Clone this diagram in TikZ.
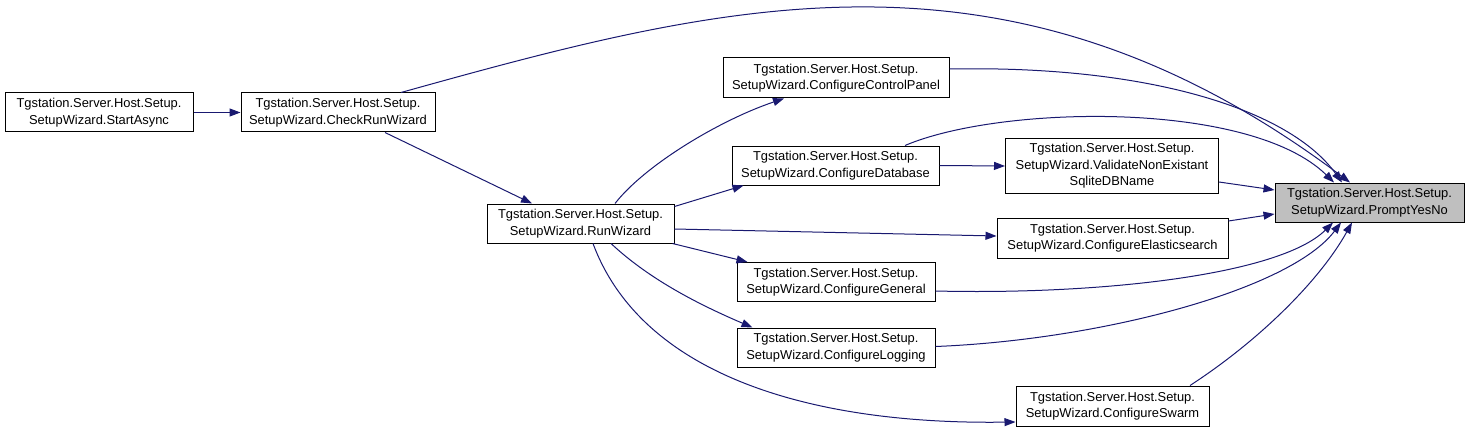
\documentclass[tikz,border=0pt]{standalone}
\usepackage{fontspec}
\setmainfont{Liberation Sans}
\usetikzlibrary{arrows.meta}
\definecolor{edgeblue}{HTML}{191970}
\definecolor{hlgray}{HTML}{BFBFBF}
\begin{document}
\begin{tikzpicture}[x=1pt,y=-1pt,
  box/.style={draw=black, line width=1pt, inner sep=0pt, align=center, fill=white,
    font=\fontsize{12.9}{16.5}\selectfont},
  edge/.style={draw=edgeblue, line width=1pt, -{Triangle[length=11pt,width=8pt]}}]
\useasboundingbox (0,0) rectangle (1469,433);
% nodes
\node[box, minimum width=188pt, minimum height=39pt] (start) at (99,112.5) {Tgstation.Server.Host.Setup.\\SetupWizard.StartAsync};
\node[box, minimum width=194pt, minimum height=39pt] (check) at (338,112.5) {Tgstation.Server.Host.Setup.\\SetupWizard.CheckRunWizard};
\node[box, minimum width=187pt, minimum height=39pt] (run) at (580.5,223.5) {Tgstation.Server.Host.Setup.\\SetupWizard.RunWizard};
\node[box, minimum width=226pt, minimum height=40pt] (cp) at (836,78) {Tgstation.Server.Host.Setup.\\SetupWizard.ConfigureControlPanel};
\node[box, minimum width=207pt, minimum height=39pt] (db) at (835.5,165.5) {Tgstation.Server.Host.Setup.\\SetupWizard.ConfigureDatabase};
\node[box, minimum width=213pt, minimum height=54pt] (val) at (1112,166) {Tgstation.Server.Host.Setup.\\SetupWizard.ValidateNonExistant\\SqliteDBName};
\node[box, minimum width=231pt, minimum height=40pt] (es) at (1112.5,238) {Tgstation.Server.Host.Setup.\\SetupWizard.ConfigureElasticsearch};
\node[box, minimum width=198pt, minimum height=39pt] (gen) at (836,282) {Tgstation.Server.Host.Setup.\\SetupWizard.ConfigureGeneral};
\node[box, minimum width=198pt, minimum height=39pt] (log) at (836,347.5) {Tgstation.Server.Host.Setup.\\SetupWizard.ConfigureLogging};
\node[box, minimum width=193pt, minimum height=40pt] (sw) at (1112.5,406) {Tgstation.Server.Host.Setup.\\SetupWizard.ConfigureSwarm};
\node[box, fill=hlgray, minimum width=189pt, minimum height=39pt] (pr) at (1369.5,202.5) {Tgstation.Server.Host.Setup.\\SetupWizard.PromptYesNo};
% edges
\draw[edge] (start.east) -- (check.west);
\draw[edge] ([xshift=47pt]check.south) -- ([xshift=-48.5pt]run.north);
\draw[edge] ([xshift=63pt]check.north) .. controls (726,2) and (1010,-73) .. ([xshift=-19.5pt]pr.north);
\draw[edge] ([xshift=34.5pt]run.north) .. controls (645,165) and (720,120) .. ([xshift=-52pt]cp.south);
\draw[edge] ([yshift=-3pt]run.north east) -- ([xshift=12pt]db.south west);
\draw[edge] ([yshift=-5.5pt]run.east) -- ([yshift=2pt]es.west);
\draw[edge] ([xshift=-2pt]run.south east) -- ([xshift=11pt]gen.north west);
\draw[edge] ([xshift=30.5pt]run.south) .. controls (650,280) and (700,305) .. ([xshift=16pt]log.north west);
\draw[edge] ([xshift=12.5pt]run.south) .. controls (640,370) and (800,425) .. ([yshift=-16pt]sw.west);
\draw[edge] ([yshift=9pt]cp.east) .. controls (1150,65) and (1290,110) .. ([xshift=-27.5pt]pr.north);
\draw[edge] ([xshift=69.5pt]db.north) .. controls (1000,105) and (1250,100) .. ([xshift=-35.5pt]pr.north);
\draw[edge] (db.east) -- (val.west);
\draw[edge] ([yshift=-16pt]val.east) -- ([yshift=12.5pt]pr.west);
\draw[edge] ([yshift=17pt]es.east) -- ([yshift=-11.5pt]pr.west);
\draw[edge] ([yshift=-9pt]gen.east) .. controls (1100,295) and (1280,275) .. ([xshift=-36.5pt]pr.south);
\draw[edge] ([yshift=1pt]log.east) .. controls (1100,340) and (1290,290) .. ([xshift=-28.5pt]pr.south);
\draw[edge] ([xshift=77.5pt]sw.north) .. controls (1260,340) and (1320,280) .. ([xshift=-17.5pt]pr.south);
\end{tikzpicture}
\end{document}
